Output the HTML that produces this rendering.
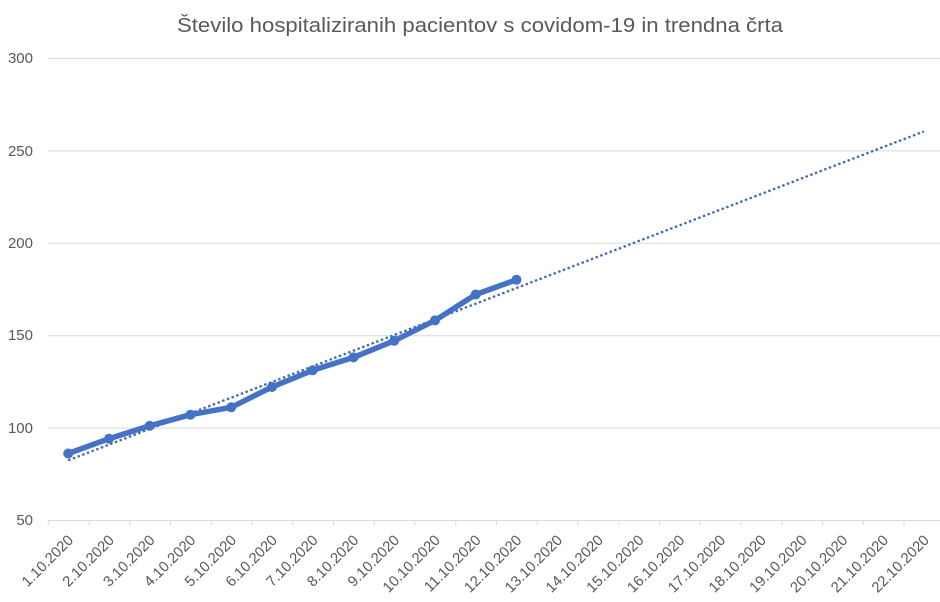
<!DOCTYPE html>
<html><head><meta charset="utf-8"><style>
html,body{margin:0;padding:0;background:#fff;}
svg{display:block;}
text{font-family:"Liberation Sans",sans-serif;fill:#595959;}
</style></head><body>
<svg width="940" height="602" viewBox="0 0 940 602" xmlns="http://www.w3.org/2000/svg">
<rect width="940" height="602" fill="#fff"/>
<text x="480" y="32" font-size="20" text-anchor="middle" textLength="606" lengthAdjust="spacingAndGlyphs">Število hospitaliziranih pacientov s covidom-19 in trendna črta</text>
<g stroke="#d9d9d9" stroke-width="1">
<line x1="47.8" y1="58.5" x2="940" y2="58.5"/>
<line x1="47.8" y1="150.9" x2="940" y2="150.9"/>
<line x1="47.8" y1="243.3" x2="940" y2="243.3"/>
<line x1="47.8" y1="335.7" x2="940" y2="335.7"/>
<line x1="47.8" y1="428.1" x2="940" y2="428.1"/>
<line x1="47.8" y1="520.5" x2="940" y2="520.5"/>
</g>
<g font-size="15" text-anchor="end">
<text x="33" y="63">300</text>
<text x="33" y="156">250</text>
<text x="33" y="248">200</text>
<text x="33" y="340">150</text>
<text x="33" y="433">100</text>
<text x="33" y="525">50</text>
</g>
<g stroke="#d9d9d9" stroke-width="1">
<line x1="48.3" y1="520" x2="48.3" y2="525"/><line x1="89" y1="520" x2="89" y2="525"/><line x1="129.8" y1="520" x2="129.8" y2="525"/><line x1="170.5" y1="520" x2="170.5" y2="525"/><line x1="211.3" y1="520" x2="211.3" y2="525"/><line x1="252" y1="520" x2="252" y2="525"/><line x1="292.8" y1="520" x2="292.8" y2="525"/><line x1="333.5" y1="520" x2="333.5" y2="525"/><line x1="374.3" y1="520" x2="374.3" y2="525"/><line x1="415" y1="520" x2="415" y2="525"/><line x1="455.8" y1="520" x2="455.8" y2="525"/><line x1="496.5" y1="520" x2="496.5" y2="525"/><line x1="537.3" y1="520" x2="537.3" y2="525"/><line x1="578" y1="520" x2="578" y2="525"/><line x1="618.8" y1="520" x2="618.8" y2="525"/><line x1="659.5" y1="520" x2="659.5" y2="525"/><line x1="700.3" y1="520" x2="700.3" y2="525"/><line x1="741" y1="520" x2="741" y2="525"/><line x1="781.8" y1="520" x2="781.8" y2="525"/><line x1="822.5" y1="520" x2="822.5" y2="525"/><line x1="863.3" y1="520" x2="863.3" y2="525"/><line x1="904" y1="520" x2="904" y2="525"/>
</g>
<g font-size="14.8" text-anchor="end">
<text transform="translate(74.2,541) rotate(-45)">1.10.2020</text>
<text transform="translate(115,541) rotate(-45)">2.10.2020</text>
<text transform="translate(155.7,541) rotate(-45)">3.10.2020</text>
<text transform="translate(196.5,541) rotate(-45)">4.10.2020</text>
<text transform="translate(237.2,541) rotate(-45)">5.10.2020</text>
<text transform="translate(278,541) rotate(-45)">6.10.2020</text>
<text transform="translate(318.7,541) rotate(-45)">7.10.2020</text>
<text transform="translate(359.5,541) rotate(-45)">8.10.2020</text>
<text transform="translate(400.2,541) rotate(-45)">9.10.2020</text>
<text transform="translate(441,541) rotate(-45)">10.10.2020</text>
<text transform="translate(481.7,541) rotate(-45)">11.10.2020</text>
<text transform="translate(522.5,541) rotate(-45)">12.10.2020</text>
<text transform="translate(563.2,541) rotate(-45)">13.10.2020</text>
<text transform="translate(604,541) rotate(-45)">14.10.2020</text>
<text transform="translate(644.7,541) rotate(-45)">15.10.2020</text>
<text transform="translate(685.5,541) rotate(-45)">16.10.2020</text>
<text transform="translate(726.2,541) rotate(-45)">17.10.2020</text>
<text transform="translate(767,541) rotate(-45)">18.10.2020</text>
<text transform="translate(807.7,541) rotate(-45)">19.10.2020</text>
<text transform="translate(848.5,541) rotate(-45)">20.10.2020</text>
<text transform="translate(889.2,541) rotate(-45)">21.10.2020</text>
<text transform="translate(930,541) rotate(-45)">22.10.2020</text>
</g>
<line x1="68.2" y1="460.3" x2="924" y2="131.4" stroke="#3f66b0" stroke-width="2.3" stroke-dasharray="2.4 2.6"/>
<polyline fill="none" stroke="#4472C4" stroke-width="5.5" stroke-linejoin="round" stroke-linecap="round"
points="68.2,453.5 109,438.7 149.7,425.8 190.5,414.7 231.2,407.3 272,387.0 312.7,370.3 353.5,357.4 394.2,340.8 435,320.4 475.7,294.5 516.5,279.7"/>
<g fill="#4472C4">
<circle cx="68.2" cy="453.5" r="5"/><circle cx="109" cy="438.7" r="5"/><circle cx="149.7" cy="425.8" r="5"/><circle cx="190.5" cy="414.7" r="5"/><circle cx="231.2" cy="407.3" r="5"/><circle cx="272" cy="387.0" r="5"/><circle cx="312.7" cy="370.3" r="5"/><circle cx="353.5" cy="357.4" r="5"/><circle cx="394.2" cy="340.8" r="5"/><circle cx="435" cy="320.4" r="5"/><circle cx="475.7" cy="294.5" r="5"/><circle cx="516.5" cy="279.7" r="5"/>
</g>
</svg>
</body></html>
